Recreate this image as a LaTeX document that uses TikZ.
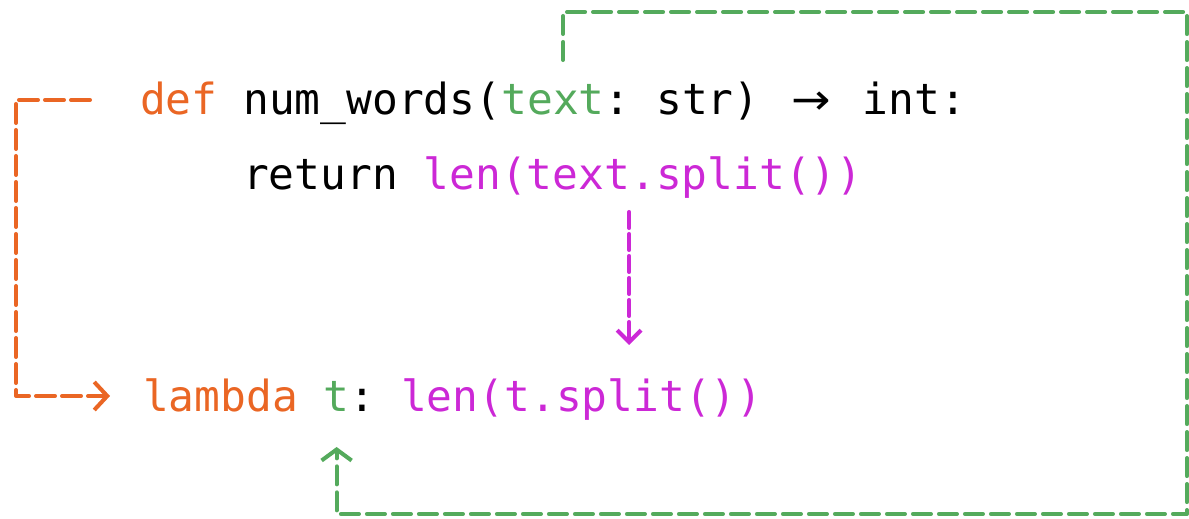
\documentclass[tikz,border=0pt]{standalone}
\usepackage{fontspec}
\setmonofont{DejaVu Sans Mono}
\newfontfamily\arrowfont{DejaVu Sans}
\usepackage{xcolor}
\usetikzlibrary{arrows.meta, positioning}

\definecolor{kwOrange}{RGB}{234,102,36}
\definecolor{argGreen}{RGB}{84,170,92}
\definecolor{bodyMagenta}{RGB}{204,40,214}

\newcommand{\ws}{\hphantom{x}}
\newcommand{\rarr}{\hbox to 1.204em{\hss\arrowfont\scalebox{1.1}[1]{→}\hss}}

\begin{document}
\begin{tikzpicture}[
    code/.style={inner sep=0pt, outer sep=0pt, font=\ttfamily\fontsize{24.4}{30}\selectfont},
    node distance=0pt,
    link/.style={line width=2.3pt, line cap=round, line join=round},
  ]
  \useasboundingbox (0,0) rectangle (23.78,10.36);
  % Function definition
  \node[code, anchor=base west, text=kwOrange] (def) at (2.80,8.06) {def\ws};
  \node[code, base right=of def] (name) {num\_words(};
  \node[code, base right=of name, text=argGreen] (text) {text};
  \node[code, base right=of text] (sig) {:\ws str)\ws\rarr\ws int:};
  % Body
  \node[code, anchor=base west] (ret) at (4.86,6.56) {return\ws};
  \node[code, base right=of ret, text=bodyMagenta] (lenA) {len(text.split())};
  % Lambda version
  \node[code, anchor=base west, text=kwOrange] (lambda) at (2.86,2.12) {lambda\ws};
  \node[code, base right=of lambda, text=argGreen] (t) {t};
  \node[code, base right=of t] (colon) {:\ws};
  \node[code, base right=of colon, text=bodyMagenta] (lenB) {len(t.split())};
  % def -> lambda
  \draw[link, kwOrange, dash pattern=on 0.38cm off 0.14cm, -{Straight Barb[length=0.26cm, width=0.56cm]}]
    ([xshift=-1.0cm, yshift=0.30cm]def.base west) -- ++(-1.48,0) |- ([xshift=-0.66cm, yshift=0.32cm]lambda.base west);
  % argument -> argument
  \draw[link, argGreen, dash pattern=on 0.36cm off 0.16cm, -{Straight Barb[length=0.22cm, width=0.6cm]}]
    ([xshift=0.2cm, yshift=1.1cm]text.base) -- ++(0,0.96) -| (23.74,0.08) -| ([yshift=-0.7cm]t.base);
  % body -> body
  \coordinate (magTop) at ([xshift=-0.28cm, yshift=-0.44cm]lenA.base);
  \coordinate (magEnd) at ([yshift=1.34cm]lenB.base);
  \draw[link, bodyMagenta, dash pattern=on 0.32cm off 0.12cm, -{Straight Barb[length=0.24cm, width=0.48cm]}]
    (magTop) -- (magTop |- magEnd);
\end{tikzpicture}
\end{document}
